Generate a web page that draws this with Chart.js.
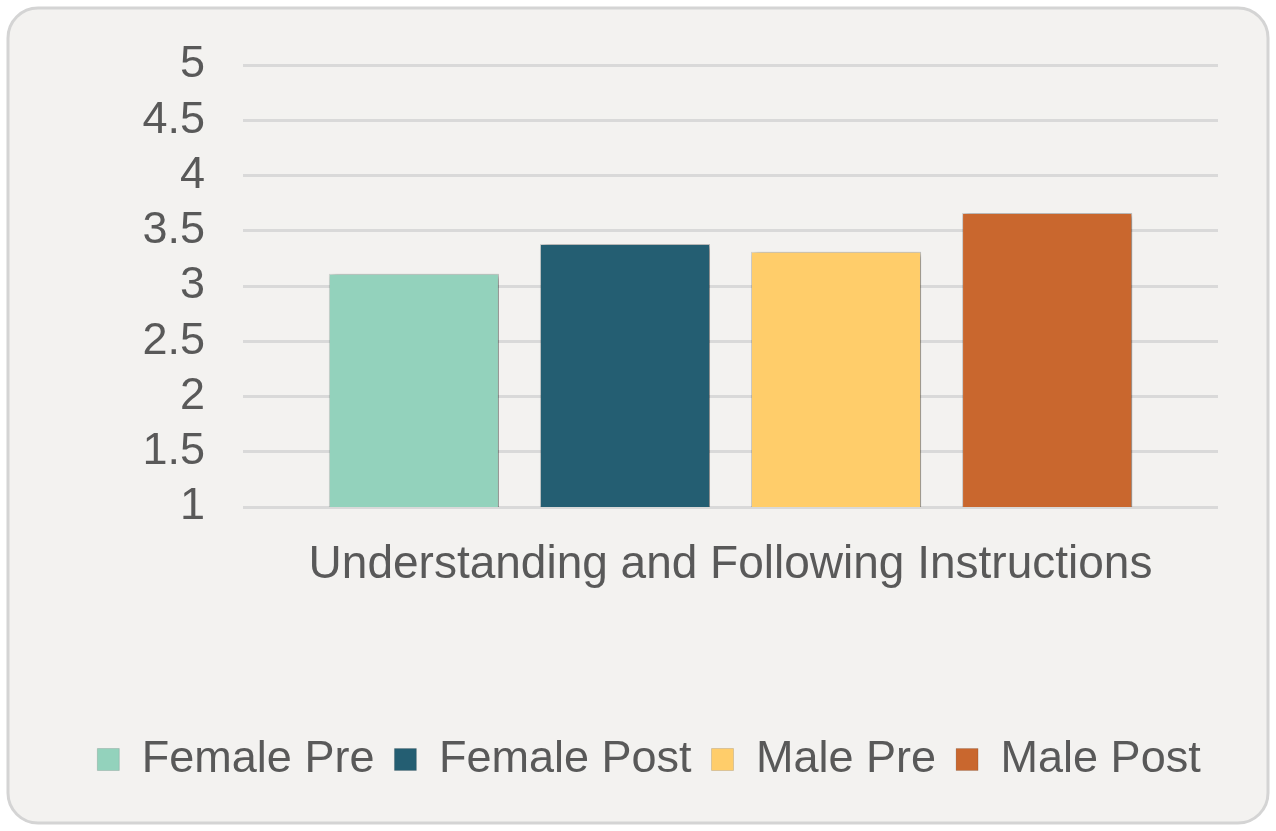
<!DOCTYPE html>
<html>
<head>
<meta charset="utf-8">
<script src="https://cdn.jsdelivr.net/npm/chart.js@4/dist/chart.umd.min.js"></script>
<style>
  html, body { margin: 0; padding: 0; background: #ffffff; }
  canvas { display: block; }
</style>
</head>
<body>
<canvas id="barChart" width="1276" height="831"></canvas>
<script>
// chart data
var categories = ['Understanding and Following Instructions'];
var seriesNames = ['Female Pre', 'Female Post', 'Male Pre', 'Male Post'];
var femalePre = [3.11];
var femalePost = [3.38];
var malePre = [3.31];
var malePost = [3.66];
var yTicks = [1, 1.5, 2, 2.5, 3, 3.5, 4, 4.5, 5];

var colors = ['#93d2bc', '#245e72', '#ffcd6a', '#c9672e'];
var textColor = '#595959';
var fontFamily = '"Liberation Sans", Arial, sans-serif';

// paper background + rounded frame
var frame = {
    id: 'frame',
    beforeDraw: function(chart) {
        var ctx = chart.ctx;
        ctx.save();
        ctx.fillStyle = '#ffffff';
        ctx.fillRect(0, 0, chart.width, chart.height);
        ctx.beginPath();
        ctx.roundRect(8, 8, chart.width - 16, chart.height - 16, 30);
        ctx.fillStyle = '#f3f2f0';
        ctx.fill();
        ctx.lineWidth = 3;
        ctx.strokeStyle = '#d4d4d4';
        ctx.stroke();
        ctx.restore();
    }
};

// soft shadow under the bars
var barShadow = {
    id: 'barShadow',
    beforeDatasetsDraw: function(chart) {
        var ctx = chart.ctx;
        ctx.save();
        ctx.shadowColor = 'rgba(0,0,0,0.4)';
        ctx.shadowBlur = 6;
        ctx.shadowOffsetX = 3;
        ctx.shadowOffsetY = 1;
    },
    afterDatasetsDraw: function(chart) {
        chart.ctx.restore();
    }
};

var series = [femalePre, femalePost, malePre, malePost];
var datasets = [];
for (var i = 0; i < seriesNames.length; i++) {
    datasets.push({
        label: seriesNames[i],
        data: series[i],
        backgroundColor: colors[i],
        borderColor: 'rgba(0,0,0,0.12)',
        borderWidth: 1,
        categoryPercentage: 0.866,
        barPercentage: 0.806
    });
}

var ctx = document.getElementById('barChart').getContext('2d');
var chart = new Chart(ctx, {
    type: 'bar',
    data: { labels: categories, datasets: datasets },
    options: {
        responsive: false,
        animation: false,
        layout: { padding: { top: 63, right: 0, bottom: 39, left: 22 } },
        scales: {
            x: {
                grid: { display: false, drawTicks: false },
                border: { display: false },
                ticks: {
                    color: textColor,
                    padding: 31,
                    font: { family: fontFamily, size: 46 }
                },
                afterFit: function(scale) { scale.height = 210; }
            },
            y: {
                min: 1,
                max: 5,
                afterBuildTicks: function(scale) {
                    scale.ticks = yTicks.map(function(v) { return { value: v }; });
                },
                grid: { color: '#d9d9d9', lineWidth: 3, drawTicks: false },
                border: { display: false },
                ticks: {
                    color: textColor,
                    padding: 38,
                    autoSkip: false,
                    font: { family: fontFamily, size: 45 },
                    callback: function(v) { return String(v); }
                },
                afterFit: function(scale) { scale.width = 221; }
            },
            // empty spacer on the right so the plot ends where the reference does
            spacer: {
                type: 'linear',
                position: 'right',
                grid: { display: false, drawTicks: false },
                border: { display: false },
                ticks: { display: false },
                afterFit: function(scale) { scale.width = 58; }
            }
        },
        plugins: {
            legend: {
                position: 'bottom',
                labels: {
                    color: textColor,
                    boxWidth: 22,
                    boxHeight: 22,
                    padding: 20,
                    font: { family: fontFamily, size: 45 }
                }
            },
            tooltip: { enabled: false }
        }
    },
    plugins: [frame, barShadow]
});
</script>
</body>
</html>
